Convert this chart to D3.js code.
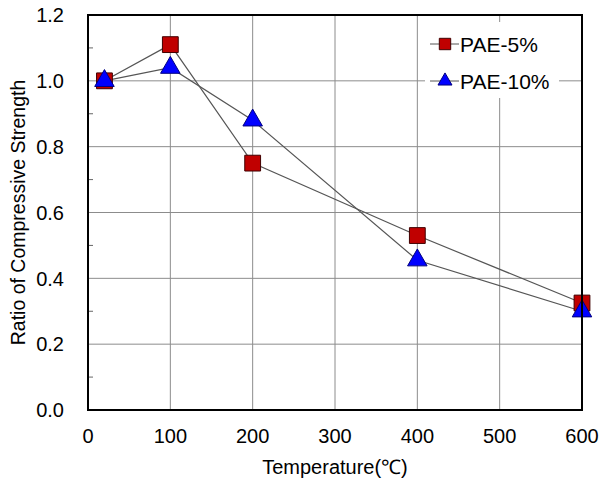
<!DOCTYPE html>
<html>
<head>
<meta charset="utf-8">
<script src="https://cdn.jsdelivr.net/npm/d3@7"></script>
<style>
body { margin: 0; background: #fff; }
text { font-family: "Liberation Sans", Arial, sans-serif; fill: #000; }
</style>
</head>
<body>
<div id="chart"></div>
<script>
// data
const temps = [20, 100, 200, 400, 600];
const pae5 = [1.0, 1.11, 0.75, 0.53, 0.325];
const pae10 = [1.0, 1.04, 0.88, 0.455, 0.30];
const xTicks = [0, 100, 200, 300, 400, 500, 600];
const yTicks = [0.0, 0.2, 0.4, 0.6, 0.8, 1.0, 1.2];
const seriesNames = ["PAE-5%", "PAE-10%"];

const width = 600, height = 482;
const margin = { top: 15, right: 18, bottom: 72, left: 88 };

const svg = d3.select("#chart").append("svg")
    .attr("width", width)
    .attr("height", height);

const x = d3.scaleLinear().domain([0, 600]).range([margin.left, width - margin.right]);
const y = d3.scaleLinear().domain([0, 1.2]).range([height - margin.bottom, margin.top]);

// grid
svg.append("g")
    .selectAll("line")
    .data(xTicks)
    .enter().append("line")
    .attr("x1", d => x(d)).attr("x2", d => x(d))
    .attr("y1", y(0)).attr("y2", y(1.2))
    .attr("stroke", "#8c8c8c").attr("stroke-width", 1);

svg.append("g")
    .selectAll("line")
    .data(yTicks)
    .enter().append("line")
    .attr("x1", x(0)).attr("x2", x(600))
    .attr("y1", d => y(d)).attr("y2", d => y(d))
    .attr("stroke", "#8c8c8c").attr("stroke-width", 1);

// minor ticks on y axis (inside)
svg.append("g")
    .selectAll("line")
    .data(d3.range(0.1, 1.2, 0.2))
    .enter().append("line")
    .attr("x1", x(0)).attr("x2", x(0) + 5)
    .attr("y1", d => y(d)).attr("y2", d => y(d))
    .attr("stroke", "#666");

// tick labels
svg.append("g")
    .selectAll("text")
    .data(yTicks)
    .enter().append("text")
    .attr("x", x(0) - 24)
    .attr("y", d => y(d))
    .attr("dy", "0.36em")
    .attr("text-anchor", "end")
    .style("font-size", "20px")
    .text(d => d.toFixed(1));

svg.append("g")
    .selectAll("text")
    .data(xTicks)
    .enter().append("text")
    .attr("x", d => x(d))
    .attr("y", y(0) + 33)
    .attr("text-anchor", "middle")
    .style("font-size", "20px")
    .text(d => d);

// axis titles
svg.append("text")
    .attr("x", (x(0) + x(600)) / 2)
    .attr("y", height - 8)
    .attr("text-anchor", "middle")
    .style("font-size", "20px")
    .text("Temperature(\u2103)");

svg.append("text")
    .attr("transform", `translate(25, ${(y(0) + y(1.2)) / 2}) rotate(-90)`)
    .attr("text-anchor", "middle")
    .style("font-size", "19.5px")
    .text("Ratio of Compressive Strength");

// lines
const line = d3.line()
    .x((d, i) => x(temps[i]))
    .y(d => y(d));

[pae5, pae10].forEach(s => {
    svg.append("path")
        .attr("d", line(s))
        .attr("fill", "none")
        .attr("stroke", "#555")
        .attr("stroke-width", 1.2);
});

const square = d3.symbol().type(d3.symbolSquare).size(250);
const triangle = d3.symbol().type(d3.symbolTriangle).size(165);

function drawMarkers(vals, sym, fill, stroke) {
    svg.append("g")
        .selectAll("path")
        .data(vals)
        .enter().append("path")
        .attr("d", sym)
        .attr("transform", (d, i) => `translate(${x(temps[i])},${y(d)})`)
        .attr("fill", fill)
        .attr("stroke", stroke)
        .attr("stroke-width", 1);
}
drawMarkers(pae5, square, "#c00000", "#400000");
drawMarkers(pae10, triangle, "#0000ff", "#000080");

// legend
const lg = svg.append("g");
lg.append("rect")
    .attr("x", 425).attr("y", 22)
    .attr("width", 134).attr("height", 76)
    .attr("fill", "#fff");

const legendRows = [
    { name: seriesNames[0], sym: d3.symbol().type(d3.symbolSquare).size(130), fill: "#c00000", stroke: "#400000", yy: 44 },
    { name: seriesNames[1], sym: d3.symbol().type(d3.symbolTriangle).size(85), fill: "#0000ff", stroke: "#000080", yy: 81 }
];
legendRows.forEach(r => {
    lg.append("line")
        .attr("x1", 430).attr("x2", 459)
        .attr("y1", r.yy).attr("y2", r.yy)
        .attr("stroke", "#555");
    lg.append("path")
        .attr("d", r.sym)
        .attr("transform", `translate(445,${r.yy})`)
        .attr("fill", r.fill)
        .attr("stroke", r.stroke);
    lg.append("text")
        .attr("x", 460).attr("y", r.yy)
        .attr("dy", "0.36em")
        .style("font-size", "21px")
        .text(r.name);
});

// frame
svg.append("rect")
    .attr("x", x(0)).attr("y", y(1.2))
    .attr("width", x(600) - x(0))
    .attr("height", y(0) - y(1.2))
    .attr("fill", "none")
    .attr("stroke", "#000")
    .attr("stroke-width", 2);
</script>
</body>
</html>
